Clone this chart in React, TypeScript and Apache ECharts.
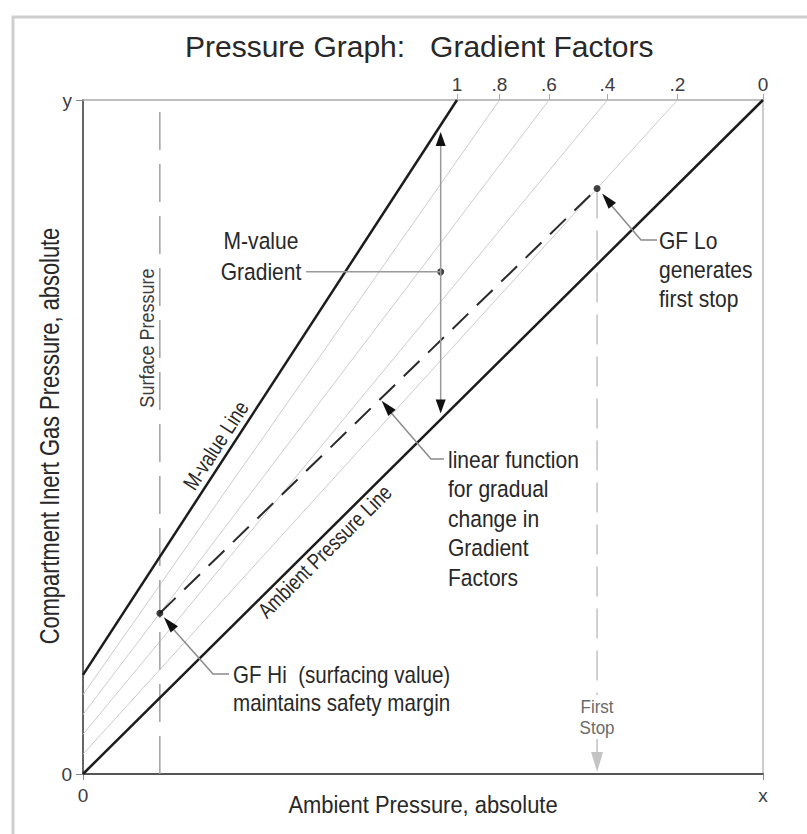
import React, { useEffect, useRef } from "react";
import * as echarts from "echarts";

// ---------------- data ----------------
const AXIS_MIN = 0;
const AXIS_MAX = 10;
const xTickLabels = ["0", "x"];
const yTickLabels = ["0", "y"];
const ambientLine: number[][] = [[0, 0], [10, 10]];
const mValueLine: number[][] = [[0, 1.47], [5.5, 10]];
const gradientFactors = [1, 0.8, 0.6, 0.4, 0.2, 0];
const gradientFactorLabels = ["1", ".8", ".6", ".4", ".2", "0"];
const surfacePressureX = 1.13;
const firstStopX = 7.56;
const gfHi = 0.6;
const gfLo = 0.2;
const gradientArrowX = 5.26;
const gradientDotY = 7.45;
const linearArrowFraction = 0.505;

// ---------------- helpers ----------------
const slopeOf = (l: number[][]) => (l[1][1] - l[0][1]) / (l[1][0] - l[0][0]);
const interceptOf = (l: number[][]) => l[0][1] - slopeOf(l) * l[0][0];
const ambAt = (x: number) => interceptOf(ambientLine) + slopeOf(ambientLine) * x;
const mAt = (x: number) => interceptOf(mValueLine) + slopeOf(mValueLine) * x;
const gfAt = (gf: number, x: number) => ambAt(x) + gf * (mAt(x) - ambAt(x));
const gfTopX = (gf: number) => {
  const i = interceptOf(ambientLine) + gf * (interceptOf(mValueLine) - interceptOf(ambientLine));
  const s = slopeOf(ambientLine) + gf * (slopeOf(mValueLine) - slopeOf(ambientLine));
  return (AXIS_MAX - i) / s;
};
const topTickValues = gradientFactors.map(gfTopX);

const FONT = '"Liberation Sans", Arial, Helvetica, sans-serif';
const TEXT = "#282828";
const NARROW = 0.895;

function arrowHead(tip: number[], from: number[], len: number, half: number, color: string) {
  const dx = tip[0] - from[0];
  const dy = tip[1] - from[1];
  const L = Math.hypot(dx, dy);
  const ux = dx / L;
  const uy = dy / L;
  const bx = tip[0] - ux * len;
  const by = tip[1] - uy * len;
  return {
    type: "polygon",
    z: 20,
    silent: true,
    shape: {
      points: [
        [tip[0], tip[1]],
        [bx - uy * half, by + ux * half],
        [bx + uy * half, by - ux * half],
      ],
    },
    style: { fill: color },
  };
}

function txt(text: string, x: number, y: number, size: number, opts: any = {}) {
  return {
    type: "text",
    z: 20,
    silent: true,
    x,
    y,
    rotation: opts.rotation || 0,
    scaleX: opts.scaleX || NARROW,
    scaleY: 1,
    style: {
      text,
      x: 0,
      y: 0,
      fill: opts.color || TEXT,
      fontSize: size,
      fontFamily: FONT,
      align: opts.align || "left",
      verticalAlign: opts.verticalAlign || "middle",
      textAlign: opts.align || "left",
      textVerticalAlign: opts.verticalAlign || "middle",
      lineHeight: opts.lineHeight || size * 1.2,
      backgroundColor: opts.backgroundColor,
      padding: opts.padding,
    },
  };
}

function leader(points: number[][]) {
  return {
    type: "polyline",
    z: 15,
    silent: true,
    shape: { points },
    style: { stroke: "#8a8a8a", lineWidth: 1.5, fill: "none" },
  };
}

export default function App() {
  const ref = useRef<HTMLDivElement>(null);

  useEffect(() => {
    document.body.style.margin = "0";
    if (!ref.current) return;
    const chart = echarts.init(ref.current, null, { renderer: "svg" });

    const noSym = { type: "line", symbol: "none", silent: true, animation: false };
    const gfLines = gradientFactors
      .filter((g) => g > 0 && g < 1)
      .map((g) => ({
        ...noSym,
        name: "GF " + g,
        data: [[0, gfAt(g, 0)], [gfTopX(g), AXIS_MAX]],
        lineStyle: { color: "#cccccc", width: 1 },
        z: 1,
      }));

    const labelStyle = { fontSize: 19, color: "#3c3c3c", fontFamily: FONT };

    const option: any = {
      animation: false,
      backgroundColor: "#ffffff",
      title: {
        text: "Pressure Graph:   Gradient Factors",
        left: 180,
        top: 26,
        textStyle: { fontSize: 30, fontWeight: "normal", color: TEXT, fontFamily: FONT },
      },
      grid: { left: 83, top: 100, width: 680, height: 674 },
      xAxis: [
        {
          type: "value",
          position: "bottom",
          min: AXIS_MIN,
          max: AXIS_MAX,
          interval: AXIS_MAX - AXIS_MIN,
          splitLine: { show: false },
          axisLine: { show: true, onZero: false, lineStyle: { color: "#555555", width: 2 } },
          axisTick: { show: true, length: 6, lineStyle: { color: "#888888", width: 1 } },
          axisLabel: {
            ...labelStyle,
            margin: 12,
            formatter: (v: number) => (v === AXIS_MIN ? xTickLabels[0] : xTickLabels[1]),
          },
        },
        {
          type: "value",
          position: "top",
          min: AXIS_MIN,
          max: AXIS_MAX,
          splitLine: { show: false },
          axisLine: { show: true, onZero: false, lineStyle: { color: "#aaaaaa", width: 1.5 } },
          axisTick: {
            show: true,
            length: 6,
            customValues: topTickValues,
            lineStyle: { color: "#aaaaaa", width: 1 },
          },
          axisLabel: {
            ...labelStyle,
            show: true,
            margin: 6,
            customValues: topTickValues,
            formatter: (v: number) => {
              let best = 0;
              topTickValues.forEach((t, i) => {
                if (Math.abs(t - v) < Math.abs(topTickValues[best] - v)) best = i;
              });
              return gradientFactorLabels[best];
            },
          },
        },
      ],
      yAxis: [
        {
          type: "value",
          position: "left",
          min: AXIS_MIN,
          max: AXIS_MAX,
          interval: AXIS_MAX - AXIS_MIN,
          splitLine: { show: false },
          axisLine: { show: true, onZero: false, lineStyle: { color: "#666666", width: 2 } },
          axisTick: { show: true, length: 7, lineStyle: { color: "#888888", width: 1 } },
          axisLabel: {
            ...labelStyle,
            margin: 11,
            formatter: (v: number) => (v === AXIS_MIN ? yTickLabels[0] : yTickLabels[1]),
          },
        },
        {
          type: "value",
          position: "right",
          min: AXIS_MIN,
          max: AXIS_MAX,
          splitLine: { show: false },
          axisLine: { show: true, onZero: false, lineStyle: { color: "#bbbbbb", width: 1.5 } },
          axisTick: { show: false },
          axisLabel: { show: false },
        },
      ],
      series: [
        ...gfLines,
        {
          ...noSym,
          name: "Surface Pressure",
          data: [[surfacePressureX, AXIS_MIN], [surfacePressureX, AXIS_MAX]],
          lineStyle: { color: "#a0a0a0", width: 1.5, type: [38, 14] },
          z: 2,
        },
        {
          ...noSym,
          name: "First Stop",
          data: [[firstStopX, gfAt(gfLo, firstStopX)], [firstStopX, AXIS_MIN]],
          lineStyle: { color: "#cfcfcf", width: 2, type: [30, 12] },
          z: 2,
        },
        {
          ...noSym,
          name: "Ambient Pressure Line",
          data: ambientLine,
          lineStyle: { color: "#1c1c1c", width: 2.5 },
          z: 3,
        },
        {
          ...noSym,
          name: "M-value Line",
          data: mValueLine,
          lineStyle: { color: "#1c1c1c", width: 2.5 },
          z: 3,
        },
        {
          ...noSym,
          name: "Gradient Factor function",
          data: [
            [surfacePressureX, gfAt(gfHi, surfacePressureX)],
            [firstStopX, gfAt(gfLo, firstStopX)],
          ],
          lineStyle: { color: "#2a2a2a", width: 2, type: [22, 12] },
          z: 3,
        },
        {
          type: "scatter",
          name: "points",
          silent: true,
          symbol: "circle",
          symbolSize: 7,
          itemStyle: { color: "#111111" },
          data: [
            [surfacePressureX, gfAt(gfHi, surfacePressureX)],
            [firstStopX, gfAt(gfLo, firstStopX)],
            [gradientArrowX, gradientDotY],
          ],
          z: 5,
        },
      ],
    };
    chart.setOption(option);

    const px = (x: number, y: number) =>
      chart.convertToPixel({ xAxisIndex: 0, yAxisIndex: 0 }, [x, y]) as number[];

    // gradient arrow
    const gTop = px(gradientArrowX, mAt(gradientArrowX));
    const gBot = px(gradientArrowX, ambAt(gradientArrowX));
    const tipTop = [gTop[0], gTop[1] + 7];
    const tipBot = [gBot[0], gBot[1] - 6];
    const gDot = px(gradientArrowX, gradientDotY);

    // annotation points
    const hiY = gfAt(gfHi, surfacePressureX);
    const loY = gfAt(gfLo, firstStopX);
    const hiPt = px(surfacePressureX, hiY);
    const loPt = px(firstStopX, loY);
    const linPt = px(
      surfacePressureX + linearArrowFraction * (firstStopX - surfacePressureX),
      hiY + linearArrowFraction * (loY - hiY)
    );
    const stopBottom = px(firstStopX, AXIS_MIN);

    // line label geometry
    const mA = px(mValueLine[0][0], mValueLine[0][1]);
    const mB = px(mValueLine[1][0], mValueLine[1][1]);
    const mAng = Math.atan2(-(mB[1] - mA[1]), mB[0] - mA[0]);
    const mAnchor = [mA[0] + 0.386 * (mB[0] - mA[0]), mA[1] + 0.386 * (mB[1] - mA[1])];
    const mLabel = [mAnchor[0] - Math.sin(mAng) * 14, mAnchor[1] - Math.cos(mAng) * 14];

    const aA = px(ambientLine[0][0], ambientLine[0][1]);
    const aB = px(ambientLine[1][0], ambientLine[1][1]);
    const aAng = Math.atan2(-(aB[1] - aA[1]), aB[0] - aA[0]);
    const aAnchor = [aA[0] + 0.343 * (aB[0] - aA[0]), aA[1] + 0.343 * (aB[1] - aA[1])];
    const aLabel = [aAnchor[0] + Math.sin(aAng) * 12, aAnchor[1] + Math.cos(aAng) * 12];

    const surf = px(surfacePressureX, AXIS_MAX);

    const loTip = [loPt[0] + 5, loPt[1] + 5];
    const hiTip = [hiPt[0] + 4, hiPt[1] + 4];
    const linTip = [linPt[0] + 1, linPt[1] + 2];

    const graphic: any[] = [
      {
        type: "polyline",
        silent: true,
        z: 0,
        shape: { points: [[13, 834], [13, 17], [807, 17]] },
        style: { stroke: "#cfcfcf", lineWidth: 3, fill: "none" },
      },
      // axis titles
      txt("Ambient Pressure, absolute", 423, 805, 24.5, { align: "center" }),
      txt("Compartment Inert Gas Pressure, absolute", 50, 436, 27, {
        align: "center",
        rotation: Math.PI / 2,
        scaleX: 0.81,
      }),
      // gradient arrow
      {
        type: "line",
        silent: true,
        z: 10,
        shape: { x1: tipTop[0], y1: tipTop[1] + 4, x2: tipBot[0], y2: tipBot[1] - 4 },
        style: { stroke: "#9a9a9a", lineWidth: 1.5 },
      },
      arrowHead(tipTop, tipBot, 14, 5, "#111111"),
      arrowHead(tipBot, tipTop, 14, 5, "#111111"),
      {
        type: "line",
        silent: true,
        z: 10,
        shape: { x1: 306, y1: gDot[1], x2: gDot[0], y2: gDot[1] },
        style: { stroke: "#9a9a9a", lineWidth: 1.5 },
      },
      txt("M-value", 261, 241, 23.5, { align: "center" }),
      txt("Gradient", 261, gDot[1], 23.5, { align: "center" }),

      // GF Lo
      leader([[657, 240], [641, 240], [loTip[0] + 6, loTip[1] + 8]]),
      arrowHead(loTip, [641, 240], 16, 4.8, "#111111"),
      txt("GF Lo\ngenerates\nfirst stop", 659, 227, 23.5, { verticalAlign: "top", lineHeight: 29 }),

      // linear function
      leader([[444, 459], [431, 459], [linTip[0] + 6, linTip[1] + 8]]),
      arrowHead(linTip, [431, 459], 16, 4.8, "#111111"),
      txt("linear function\nfor gradual\nchange in\nGradient\nFactors", 448, 445, 23.5, {
        verticalAlign: "top",
        lineHeight: 29.5,
      }),

      // GF Hi
      leader([[229, 674], [213, 674], [hiTip[0] + 6, hiTip[1] + 8]]),
      arrowHead(hiTip, [213, 674], 16, 4.8, "#111111"),
      txt("GF Hi  (surfacing value)\nmaintains safety margin", 233, 661, 23, {
        verticalAlign: "top",
        lineHeight: 28,
      }),

      // first stop
      arrowHead([stopBottom[0], stopBottom[1] - 2], [stopBottom[0], stopBottom[1] - 40], 20, 6, "#c4c4c4"),
      txt("First\nStop", stopBottom[0], 695, 19, {
        align: "center",
        verticalAlign: "top",
        lineHeight: 21,
        color: "#6a6a6a",
        backgroundColor: "#ffffff",
        padding: [1, 2, 1, 2],
      }),

      // rotated line labels
      txt("M-value Line", mLabel[0], mLabel[1], 22, { align: "center", rotation: mAng, scaleX: 0.8 }),
      txt("Ambient Pressure Line", aLabel[0], aLabel[1], 22, { align: "center", rotation: aAng, scaleX: 0.8 }),
      txt("Surface Pressure", surf[0] - 13, 338, 20.5, {
        align: "center",
        rotation: Math.PI / 2,
        scaleX: 0.88,
        color: "#3c3c3c",
      }),
    ];
    chart.setOption({ graphic });

    return () => chart.dispose();
  }, []);

  return <div ref={ref} style={{ width: 807, height: 834 }} />;
}
